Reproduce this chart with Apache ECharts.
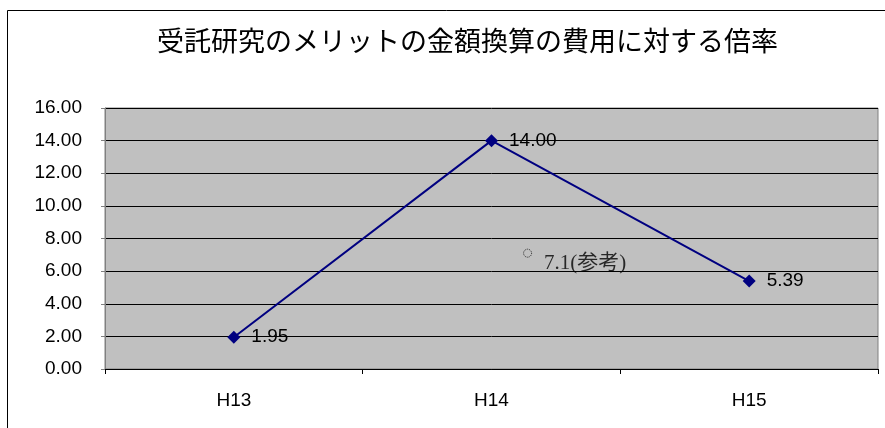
<!DOCTYPE html>
<html><head><meta charset="utf-8">
<script src="https://cdn.jsdelivr.net/npm/echarts@6/dist/echarts.min.js"></script>
<style>html,body{margin:0;padding:0;background:#fff}#c{width:885px;height:428px}</style>
</head><body><div id="c"></div>
<script>
const titleText = '受託研究のメリットの金額換算の費用に対する倍率';
const categories = ['H13', 'H14', 'H15'];
const values = [1.95, 14.00, 5.39];
const yTicks = { min: 0, max: 16, interval: 2 };
const refX = [1.14];
const refY = [7.1];
const refLabel = '7.1(参考)';

const chart = echarts.init(document.getElementById('c'), null, { renderer: 'canvas' });
chart.setOption({
  animation: false,
  backgroundColor: '#fff',
  graphic: [{
    type: 'rect', shape: { x: 7.5, y: 10.5, width: 1000, height: 1000 },
    style: { fill: 'none', stroke: '#000', lineWidth: 1 }, z: 100
  }],
  title: {
    text: titleText, left: 152, top: 22,
    textStyle: { fontFamily: 'Noto Sans CJK JP', fontSize: 27, fontWeight: 'normal', color: '#000' }
  },
  grid: {
    left: 105, top: 108, width: 773, height: 261,
    show: true, backgroundColor: '#c0c0c0', borderColor: '#808080', borderWidth: 1
  },
  xAxis: [{
    type: 'category', data: categories, boundaryGap: true,
    axisLine: { show: true, lineStyle: { color: '#000', width: 1 } },
    axisTick: { show: true, length: 5, lineStyle: { color: '#000' } },
    axisLabel: { margin: 22, fontFamily: 'Liberation Sans', fontSize: 19, color: '#000' },
    splitLine: { show: false }
  }, {
    type: 'value', min: -0.5, max: 2.5, show: false, position: 'bottom'
  }],
  yAxis: {
    type: 'value', min: yTicks.min, max: yTicks.max, interval: yTicks.interval,
    axisLine: { show: true, onZero: false, lineStyle: { color: '#808080' } },
    axisTick: { show: true, length: 4, lineStyle: { color: '#808080' } },
    axisLabel: { margin: 23, fontFamily: 'Liberation Sans', fontSize: 19, color: '#000',
      formatter: v => v.toFixed(2) },
    splitLine: { show: true, lineStyle: { color: '#000', width: 1 } }
  },
  series: [{
    type: 'line', xAxisIndex: 0, data: values,
    lineStyle: { color: '#000080', width: 2 },
    itemStyle: { color: '#000080' },
    symbol: 'diamond', symbolSize: 13,
    label: { show: true, position: 'right', distance: 11, fontFamily: 'Liberation Sans', fontSize: 19, color: '#000',
      formatter: p => p.value.toFixed(2) }
  }, {
    type: 'scatter', xAxisIndex: 1,
    data: refX.map((x, i) => [x, refY[i]]),
    symbol: 'circle', symbolSize: 8,
    itemStyle: { color: 'rgba(0,0,0,0)', borderColor: '#000', borderWidth: 1, borderType: 'dotted' },
    label: { show: true, position: 'right', distance: 12, offset: [0, 10], formatter: refLabel,
      fontFamily: 'Liberation Serif, Noto Sans CJK JP', fontSize: 21, color: '#000' }
  }]
});
</script></body></html>
